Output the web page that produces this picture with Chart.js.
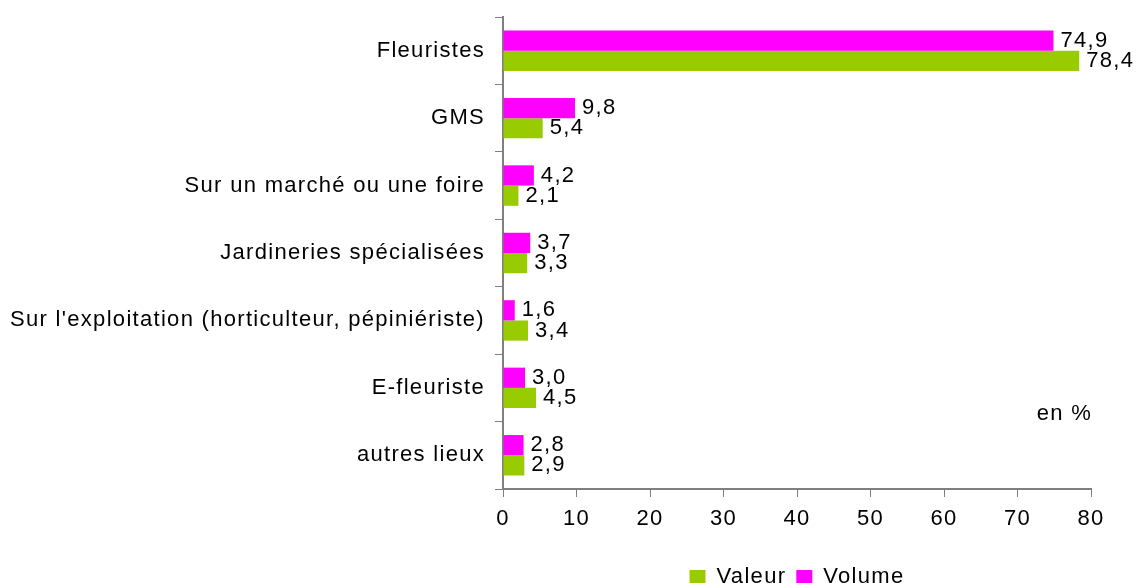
<!DOCTYPE html>
<html lang="fr">
<head>
  <meta charset="UTF-8">
  <title>Lieux d'achat</title>
  <script src="https://cdn.jsdelivr.net/npm/chart.js"></script>
  <style>
    html, body { margin: 0; padding: 0; background: #fff; }
    .chart-container { width: 1137px; height: 583px; position: relative; }
  </style>
</head>
<body>
  <div class="chart-container">
    <canvas id="myBarChart" width="1137" height="583"></canvas>
  </div>
  <pre id="err"></pre>

  <script>
    const categories = ['Fleuristes', 'GMS', 'Sur un marché ou une foire', 'Jardineries spécialisées',
      "Sur l'exploitation (horticulteur, pépiniériste)", 'E-fleuriste', 'autres lieux'];
    const volume = [74.9, 9.8, 4.2, 3.7, 1.6, 3.0, 2.8];
    const valeur = [78.4, 5.4, 2.1, 3.3, 3.4, 4.5, 2.9];
    const xTicks = [0, 10, 20, 30, 40, 50, 60, 70, 80];

    const font = "'Liberation Sans', Arial, sans-serif";
    const fontSize = 22;
    const axisColor = '#7f7f7f';
    const spacing = '1.3px';

    // the original text is drawn wide, so add letter spacing to every text
    const wideText = {
      id: 'wideText',
      beforeUpdate(chart) { chart.ctx.letterSpacing = spacing; },
      beforeDraw(chart) { chart.ctx.letterSpacing = spacing; }
    };

    // value labels at bar ends + the "en %" note
    const barLabels = {
      id: 'barLabels',
      afterDatasetsDraw(chart) {
        const ctx = chart.ctx;
        ctx.save();
        ctx.letterSpacing = spacing;
        ctx.font = fontSize + 'px ' + font;
        ctx.fillStyle = '#000';
        ctx.textBaseline = 'middle';
        ctx.textAlign = 'left';
        chart.data.datasets.forEach((ds, i) => {
          chart.getDatasetMeta(i).data.forEach((bar, j) => {
            ctx.fillText(ds.data[j].toFixed(1).replace('.', ','), bar.x + 7, bar.y);
          });
        });
        ctx.textAlign = 'right';
        ctx.fillText('en %', chart.chartArea.right + 1, 414);
        ctx.restore();
      }
    };

    try {
      const barChartCtx = document.getElementById('myBarChart').getContext('2d');
      const myBarChart = new Chart(barChartCtx, {
        type: 'bar',
        data: {
          labels: categories,
          datasets: [{
            label: 'Volume',
            data: volume,
            backgroundColor: '#ff00ff',
            categoryPercentage: 0.6,
            barPercentage: 1.0
          }, {
            label: 'Valeur',
            data: valeur,
            backgroundColor: '#99cc00',
            categoryPercentage: 0.6,
            barPercentage: 1.0
          }]
        },
        options: {
          indexAxis: 'y',
          responsive: true,
          maintainAspectRatio: false,
          animation: false,
          layout: {
            padding: { top: 17, right: 46, left: 0, bottom: 0 }
          },
          plugins: {
            tooltip: { enabled: false },
            legend: {
              position: 'bottom',
              fullSize: false,
              reverse: true,
              maxHeight: 27,
              labels: {
                boxWidth: 16,
                boxHeight: 14,
                padding: 10,
                color: '#000',
                font: { family: font, size: fontSize }
              }
            }
          },
          scales: {
            x: {
              min: 0,
              max: 80,
              ticks: {
                stepSize: 10,
                color: '#000',
                padding: 9,
                font: { family: font, size: fontSize },
                callback: (v) => xTicks.includes(v) ? String(v) : ''
              },
              afterFit(scale) { scale.height = 67; },
              grid: {
                drawOnChartArea: false,
                drawTicks: true,
                tickLength: 8,
                color: axisColor
              },
              border: { color: axisColor, width: 2 }
            },
            y: {
              afterFit(scale) {
                scale.width = 503;
                scale.paddingTop = 0;
                scale.paddingBottom = 0;
              },
              grid: {
                drawOnChartArea: false,
                drawTicks: true,
                tickLength: 8,
                color: axisColor
              },
              border: { color: axisColor, width: 2 },
              ticks: {
                color: '#000',
                padding: 10,
                font: { family: font, size: fontSize }
              }
            }
          }
        },
        plugins: [wideText, barLabels]
      });
    } catch (e) {
      document.getElementById('err').textContent = e.stack || String(e);
    }
  </script>
</body>
</html>
